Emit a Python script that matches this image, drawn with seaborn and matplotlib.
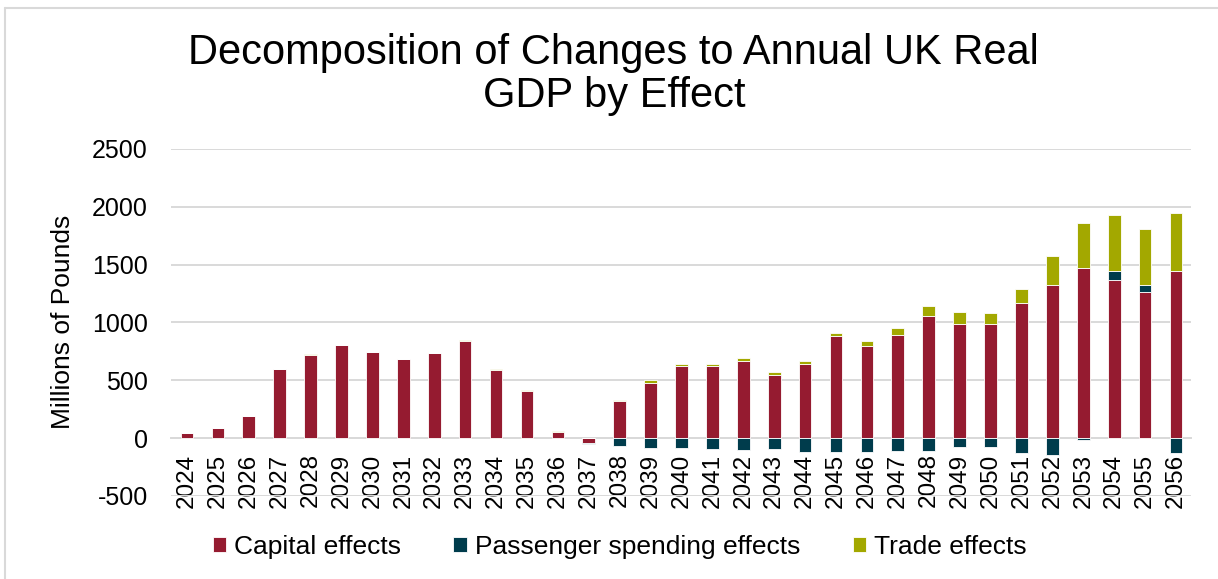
import matplotlib
matplotlib.use("Agg")
import matplotlib.pyplot as plt
from matplotlib.lines import Line2D
import numpy as np
import pandas as pd
import seaborn as sns

years = [str(y) for y in range(2024, 2057)]

capital = [45, 90, 190, 598, 718, 805, 744, 686, 732, 838, 588, 409, 57, -42,
           317, 481, 623, 628, 663, 550, 640, 879, 793, 894, 1052, 983, 983,
           1167, 1325, 1474, 1365, 1267, 1448]
passenger = [0, 0, 0, 0, 0, 0, 0, 0, 0, 0, 0, 0, 0, -6,
             -72, -81, -81, -90, -104, -93, -116, -116, -118, -112, -107, -74, -77,
             -132, -149, -17, 83, 55, -126]
trade = [0, 0, 5, 4, 10, 0, 0, 0, 0, 12, 8, 3, 3, 0,
         14, 23, 22, 17, 29, 26, 29, 29, 43, 57, 89, 109, 98,
         123, 250, 388, 478, 483, 495]

series_names = ["Capital effects", "Passenger spending effects", "Trade effects"]
colors = ["#951B30", "#003C4C", "#A3A800"]
tick_values = [-500, 0, 500, 1000, 1500, 2000, 2500]

df = pd.DataFrame({"year": years, "capital": capital,
                   "passenger": passenger, "trade": trade})

# stacking: positive parts build up from zero, negative parts build down
cap = df["capital"].to_numpy(float)
pas = df["passenger"].to_numpy(float)
pos_base = np.clip(cap, 0, None)
neg_base = np.clip(cap, None, 0)
pas_bottom = np.where(pas >= 0, pos_base, neg_base)
trade_bottom = pos_base + np.clip(pas, 0, None)

sns.set_theme(style="white")
plt.rcParams["font.family"] = ["Liberation Sans", "DejaVu Sans"]
plt.rcParams["text.color"] = "black"

fig = plt.figure(figsize=(12.18, 5.79), dpi=100)
ax = fig.add_axes([0.1408, 0.1434, 0.8374, 0.5993])

bar_kw = dict(width=0.41, edgecolor="white", linewidth=0.6, order=years,
              saturation=1)
sns.barplot(data=df, x="year", y="capital", color=colors[0], ax=ax,
            label=series_names[0], **bar_kw)
sns.barplot(data=df, x="year", y="passenger", color=colors[1], ax=ax,
            bottom=pas_bottom, label=series_names[1], **bar_kw)
sns.barplot(data=df, x="year", y="trade", color=colors[2], ax=ax,
            bottom=trade_bottom, label=series_names[2], **bar_kw)

ax.set_ylim(-500, 2500)
ax.set_xlim(-0.5, len(years) - 0.5)
ax.set_yticks(tick_values)
ax.set_yticklabels([str(v) for v in tick_values])
ax.yaxis.grid(True, color="#D9D9D9", linewidth=1.4)
ax.set_axisbelow(True)
for side in ["top", "right", "left"]:
    ax.spines[side].set_visible(False)
ax.spines["bottom"].set_position(("data", 0))
ax.spines["bottom"].set_color("#D9D9D9")
ax.spines["bottom"].set_linewidth(1.4)
ax.spines["bottom"].set_zorder(0.5)

ax.tick_params(axis="y", length=0, pad=17, labelsize=18, labelcolor="black")
ax.tick_params(axis="x", length=0, pad=11, labelsize=17.5, labelcolor="black",
               labelrotation=90)
ax.set_xlabel("")
ax.set_ylabel("")

fig.text(0.0517, 0.444, "Millions of Pounds", rotation=90, ha="center",
         va="center", fontsize=19, color="black")
fig.text(0.504, 0.871, "Decomposition of Changes to Annual UK Real\nGDP by Effect",
         ha="center", va="center", fontsize=30, linespacing=1.08, color="black")

handles, labels = ax.get_legend_handles_labels()
if ax.legend_:
    ax.legend_.remove()
leg = fig.legend(handles, labels, loc="center", bbox_to_anchor=(0.5086, 0.055),
                 ncol=3, frameon=False, fontsize=19, handlelength=0.5,
                 handleheight=0.5, handletextpad=0.3, columnspacing=2.0)
for t in leg.get_texts():
    t.set_color("black")

# chart-area frame
fig.add_artist(Line2D([5 / 1218, 1], [1 - 8 / 579] * 2, color="#D9D9D9",
                      linewidth=1.5, transform=fig.transFigure))
fig.add_artist(Line2D([5 / 1218] * 2, [0, 1 - 8 / 579], color="#D9D9D9",
                      linewidth=1.5, transform=fig.transFigure))

fig.savefig("out.png", dpi=100)
